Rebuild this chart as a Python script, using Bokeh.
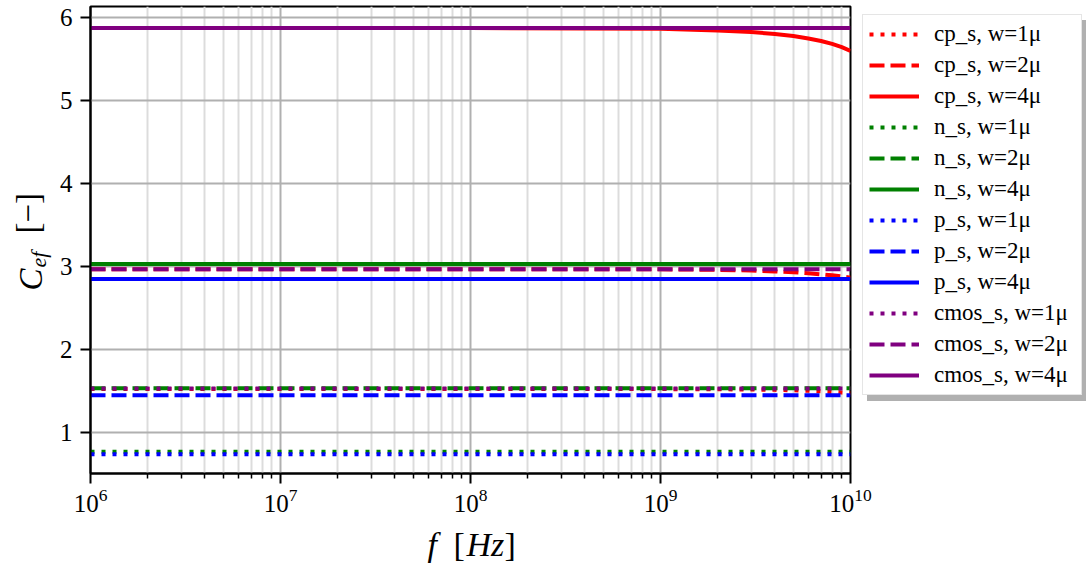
import math
from bokeh.plotting import figure
from bokeh.models import Label, Legend, LegendItem, FixedTicker, LogTickFormatter, Range1d
from bokeh.embed import file_html
from bokeh.resources import INLINE

# ---------------- data ----------------
FREQ = [1e6, 1e7, 1e8, 1e9, 2e9, 3e9, 4e9, 5e9, 6e9, 7e9, 8e9, 9e9, 1e10]

cp_s_w1 = [1.525, 1.525, 1.525, 1.524, 1.522, 1.519, 1.515, 1.510, 1.504, 1.497, 1.490, 1.482, 1.474]
cp_s_w2 = [2.968, 2.968, 2.968, 2.966, 2.960, 2.951, 2.941, 2.930, 2.919, 2.906, 2.894, 2.880, 2.866]
cp_s_w4 = [5.870, 5.870, 5.870, 5.862, 5.840, 5.822, 5.800, 5.775, 5.745, 5.715, 5.680, 5.640, 5.595]

n_s_w1 = [0.770] * len(FREQ)
n_s_w2 = [1.535] * len(FREQ)
n_s_w4 = [3.030] * len(FREQ)

p_s_w1 = [0.740] * len(FREQ)
p_s_w2 = [1.450] * len(FREQ)
p_s_w4 = [2.850] * len(FREQ)

cmos_s_w1 = [1.530] * len(FREQ)
cmos_s_w2 = [2.968] * len(FREQ)
cmos_s_w4 = [5.870] * len(FREQ)

SERIES = [
    ("cp_s, w=1μ", cp_s_w1, "#ff0000", "dot"),
    ("cp_s, w=2μ", cp_s_w2, "#ff0000", "dash"),
    ("cp_s, w=4μ", cp_s_w4, "#ff0000", "solid"),
    ("n_s, w=1μ", n_s_w1, "#008000", "dot"),
    ("n_s, w=2μ", n_s_w2, "#008000", "dash"),
    ("n_s, w=4μ", n_s_w4, "#008000", "solid"),
    ("p_s, w=1μ", p_s_w1, "#0000ff", "dot"),
    ("p_s, w=2μ", p_s_w2, "#0000ff", "dash"),
    ("p_s, w=4μ", p_s_w4, "#0000ff", "solid"),
    ("cmos_s, w=1μ", cmos_s_w1, "#800080", "dot"),
    ("cmos_s, w=2μ", cmos_s_w2, "#800080", "dash"),
    ("cmos_s, w=4μ", cmos_s_w4, "#800080", "solid"),
]

X_TICKS = [1e6, 1e7, 1e8, 1e9, 1e10]
Y_TICKS = [1, 2, 3, 4, 5, 6]

DASH = {"dot": "4 7", "dash": "15 6", "solid": "solid"}
SERIF = "Liberation Serif"

# ---------------- main figure ----------------
W, H = 1086, 568
L, R, T, B = 90, 236, 6, 95

p = figure(width=W, height=H, x_axis_type="log",
           x_range=Range1d(1e6, 1e10), y_range=Range1d(0.508, 6.13),
           output_backend="svg", toolbar_location=None)
p.min_border = 0
p.min_border_left = L
p.min_border_right = R
p.min_border_top = T
p.min_border_bottom = B
p.background_fill_color = "white"
p.border_fill_color = "white"
p.outline_line_color = "black"
p.outline_line_width = 2

minor = [m * 10 ** e for e in range(6, 10) for m in range(2, 10)]
p.xaxis.ticker = FixedTicker(ticks=X_TICKS, minor_ticks=minor)
p.xaxis.formatter = LogTickFormatter()
p.yaxis.ticker = FixedTicker(ticks=Y_TICKS)

for ax in (p.xaxis[0], p.yaxis[0]):
    ax.axis_line_color = "black"
    ax.axis_line_width = 2
    ax.major_tick_line_color = "black"
    ax.major_tick_line_width = 2
    ax.major_tick_out = 10
    ax.major_tick_in = 0
    ax.major_label_text_font = SERIF
    ax.major_label_text_font_size = "25px"
    ax.major_label_text_color = "black"
p.xaxis.minor_tick_line_color = "black"
p.xaxis.minor_tick_line_width = 1.5
p.xaxis.minor_tick_out = 5
p.xaxis.minor_tick_in = 0
p.yaxis.minor_tick_line_color = None
p.xaxis.major_label_standoff = 5
p.yaxis.major_label_standoff = 8

p.xgrid.grid_line_color = "#b0b0b0"
p.xgrid.grid_line_width = 2
p.xgrid.minor_grid_line_color = "#dcdcdc"
p.xgrid.minor_grid_line_width = 2
p.ygrid.grid_line_color = "#b0b0b0"
p.ygrid.grid_line_width = 2

for label, vals, color, style in SERIES:
    p.line(FREQ, vals, line_color=color, line_width=4,
           line_dash=DASH[style], line_cap="butt")

# ---------------- transparent overlay: axis titles and legend ----------------
ov = figure(width=W, height=H, x_range=Range1d(0, W), y_range=Range1d(0, H),
            x_axis_location=None, y_axis_location=None, title=None,
            output_backend="svg", toolbar_location=None)
ov.min_border = 0
ov.min_border_left = 0
ov.min_border_right = 0
ov.min_border_top = 0
ov.min_border_bottom = 0
ov.grid.visible = False
ov.outline_line_color = None
ov.background_fill_alpha = 0
ov.border_fill_alpha = 0
ov.styles = {"position": "absolute", "left": "0px", "top": "0px"}

# legend proxies: the same series, far outside this overlay's ranges
items = []
for label, vals, color, style in SERIES:
    proxy = ov.line(FREQ, vals, line_color=color, line_width=4,
                    line_dash=DASH[style], line_cap="butt")
    items.append(LegendItem(label=label, renderers=[proxy]))

ghost = ov.line(FREQ, cp_s_w1, line_alpha=0)

LEG_X, LEG_BOTTOM = 862, 395
PAD, GW, STAND, LW = 6, 50, 15, 141
ROW, SPACE = 26, 5
n = len(SERIES)
leg_h = n * ROW + (n - 1) * SPACE

shadow = Legend(items=[LegendItem(label=" ", renderers=[ghost])],
                location=(LEG_X + 5, H - LEG_BOTTOM - 6), padding=PAD, margin=0,
                glyph_width=GW, glyph_height=leg_h, label_height=leg_h,
                label_width=LW, label_standoff=STAND,
                background_fill_color="#b0b0b0", background_fill_alpha=1.0,
                border_line_color="#b0b0b0", label_text_alpha=0)
ov.add_layout(shadow)

leg = Legend(items=items, location=(LEG_X, H - LEG_BOTTOM), padding=PAD, margin=0,
             glyph_width=GW, glyph_height=ROW, label_height=ROW, spacing=SPACE,
             label_width=LW, label_standoff=STAND,
             label_text_font=SERIF, label_text_font_size="23px",
             label_text_color="black",
             background_fill_color="white", background_fill_alpha=1.0,
             border_line_color="#cccccc", border_line_width=1.5)
ov.add_layout(leg)


def lab(text, cx, cy, size, italic=False, angle=0.0):
    ov.add_layout(Label(x=cx, y=H - cy, x_units="screen", y_units="screen",
                        text=text, text_font=SERIF, text_font_size=size,
                        text_font_style="italic" if italic else "normal",
                        text_color="black", angle=angle,
                        text_align="left", text_baseline="middle"))


# x axis title: f [Hz]   (positions are text centre lines)
lab("f", 427, 544, "34px", italic=True)
lab("[", 453, 544, "34px")
lab("Hz", 466, 544, "34px", italic=True)
lab("]", 504, 544, "34px")

# y axis title: C_ef [−]
up = math.pi / 2
lab("C", 30, 290, "33px", italic=True, angle=up)
lab("ef", 38, 267, "22px", italic=True, angle=up)
lab("[−]", 27, 233, "33px", angle=up)

open("out.html", "w").write(file_html([p, ov], INLINE))
